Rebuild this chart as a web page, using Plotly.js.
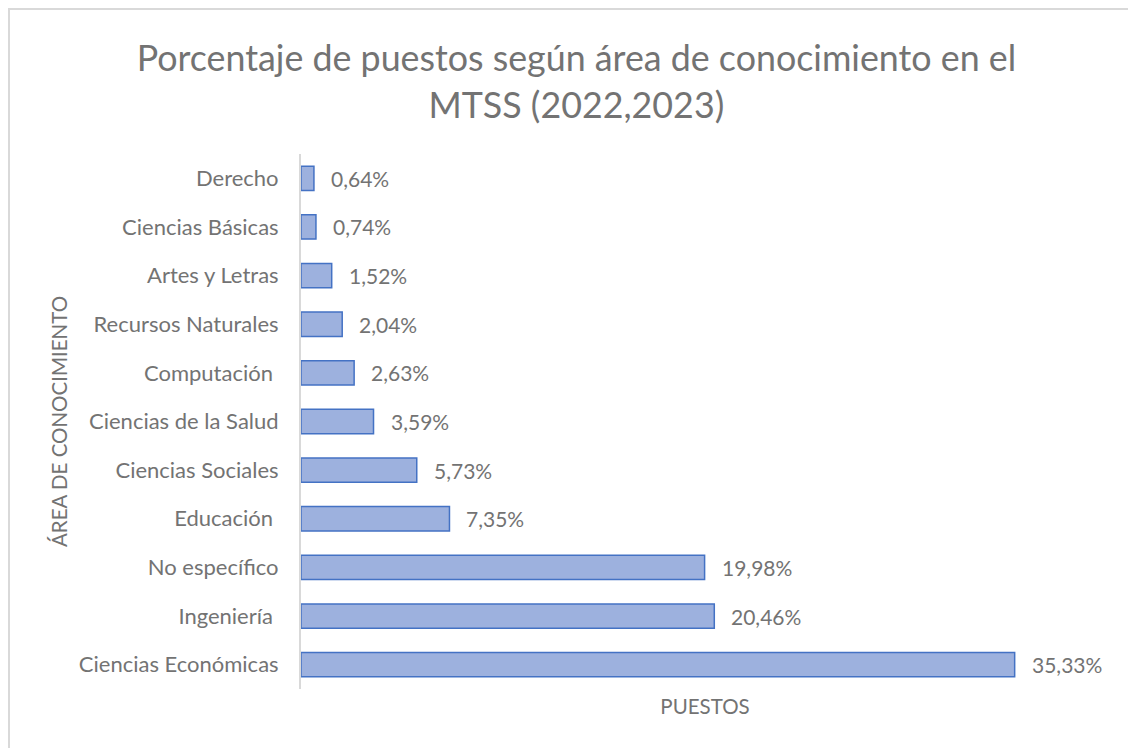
<!DOCTYPE html>
<html><head><meta charset="utf-8">
<script src="https://cdn.plot.ly/plotly-3.0.1.min.js"></script>
<style>
body{margin:0;background:#fff;}
#frame{position:absolute;left:8px;top:8px;width:1130px;height:750px;border:2px solid #d9d9d9;box-sizing:border-box;}
#chart{position:absolute;left:0;top:0;width:1128px;height:748px;}
</style></head>
<body>
<div id="frame"></div>
<div id="chart"></div>
<script>
const categories = ["Ciencias Económicas","Ingeniería ","No específico","Educación ","Ciencias Sociales","Ciencias de la Salud","Computación ","Recursos Naturales","Artes y Letras","Ciencias Básicas","Derecho"];
const values = [35.33,20.46,19.98,7.35,5.73,3.59,2.63,2.04,1.52,0.74,0.64];
const labels = values.map(v => v.toFixed(2).replace('.', ',') + '%');

const gray = '#737373';
const font = 'Lato, "Open Sans", sans-serif';

const trace = {
  type: 'bar', orientation: 'h',
  y: categories, x: values,
  width: 0.5,
  marker: {color: '#9db1de', line: {color: '#4472c4', width: 1.5}},
  hoverinfo: 'none'
};

const annotations = values.map((v, i) => ({
  x: v, y: categories[i], xref: 'x', yref: 'y',
  text: labels[i], showarrow: false, xanchor: 'left', xshift: 15,
  font: {family: font, size: 21, color: gray}
}));

const layout = {
  width: 1128, height: 748,
  paper_bgcolor: 'rgba(0,0,0,0)', plot_bgcolor: 'rgba(0,0,0,0)',
  margin: {l: 301, r: 19, t: 154, b: 59},
  font: {family: font, color: gray, size: 21},
  title: {text: 'Porcentaje de puestos según área de conocimiento en el<br>MTSS (2022,2023)',
    font: {family: font, size: 35.8, color: gray}, x: 0.511, xanchor: 'center', y: 0.905, yanchor: 'top'},
  xaxis: {range: [0, 40], showgrid: false, zeroline: false, showline: false, showticklabels: false, ticks: '',
    title: {text: 'PUESTOS', font: {family: font, size: 20.5, color: gray}, standoff: 10}},
  yaxis: {type: 'category', showgrid: false, zeroline: false, showline: true, linecolor: '#d9d9d9', linewidth: 2,
    ticks: '', ticklabelstandoff: 16, tickfont: {family: font, size: 22, color: gray},
    title: {text: 'ÁREA DE CONOCIMIENTO', font: {family: font, size: 20.5, color: gray}, standoff: 6}},
  annotations: annotations,
  showlegend: false
};

Plotly.newPlot('chart', [trace], layout, {displayModeBar: false, staticPlot: true});
</script>
</body></html>
